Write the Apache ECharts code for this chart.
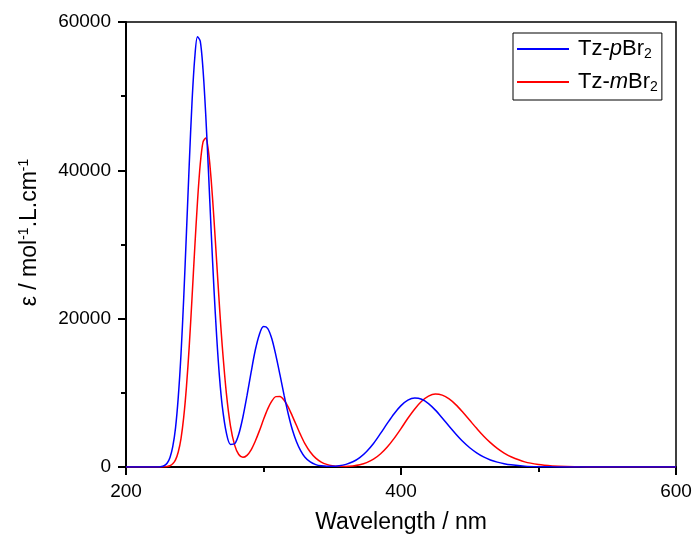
<!DOCTYPE html>
<html>
<head>
<meta charset="utf-8">
<script src="https://cdn.jsdelivr.net/npm/echarts@6/dist/echarts.min.js"></script>
<style>
html,body{margin:0;padding:0;background:#fff;}
#chart{width:693px;height:536px;}
</style>
</head>
<body>
<div id="chart"></div>
<script>
// Wavelength (nm)
var wavelengths = [200,210,218,222,225,228,230,232,234,236,238,240,242,244,246,248,250,252,254,256,258,260,262,264,266,268,270,273,276,279,282,285,288,291,294,297,300,303,306,309,312,315,318,321,324,327,330,334,338,342,346,350,355,360,365,370,375,380,385,390,395,400,405,410,415,420,425,430,435,440,445,450,455,460,465,470,475,480,490,500,510,520,530,540,550,570,600];
// Tz-pBr2 epsilon
var pBr2 = [0,0,0,6,40,207,537,1277,2735,5240,9390,15210,22890,31770,40850,49140,55140,58000,57420,53620,47460,39760,31550,23920,17420,12110,8220,4590,3050,3130,4415,6710,9620,12780,15740,17880,18940,18700,17320,15050,12410,9650,7150,5020,3410,2210,1362,682,324,154,88,90,166,356,702,1269,2102,3178,4495,5873,7190,8278,9020,9300,9128,8550,7669,6610,5499,4429,3436,2594,1911,1363,953,655,438,289,118,46,17,6,2,0,0,0,0];
// Tz-mBr2 epsilon
var mBr2 = [0,0,0,0,3,19,60,168,427,959,2027,3836,6748,10910,16300,22750,29530,35800,40850,43810,44360,42530,38600,33330,27490,21590,16310,9920,5510,2950,1680,1300,1570,2320,3480,4870,6400,7800,8880,9490,9520,9010,8080,6860,5590,4330,3200,2020,1190,660,350,180,90,80,145,300,585,1050,1750,2690,3860,5180,6570,7830,8860,9560,9840,9690,9180,8380,7370,6290,5210,4180,3280,2510,1880,1380,690,330,150,60,25,10,4,0,0];
var seriesNames = ['Tz-pBr2','Tz-mBr2'];
var xTicks = [200,400,600];
var yTicks = [0,20000,40000,60000];

var font = 'Arial, "Liberation Sans", sans-serif';
function pairs(ys){ return wavelengths.map(function(w,i){ return [w, ys[i]]; }); }

var chart = echarts.init(document.getElementById('chart'), null, {renderer:'canvas'});
chart.setOption({
  animation:false,
  backgroundColor:'#fff',
  grid:{left:126,right:17,top:22,bottom:69,containLabel:false,outerBoundsMode:'none',
        show:true,borderColor:'#000',borderWidth:1.5,backgroundColor:'transparent'},
  xAxis:{
    type:'value', min:xTicks[0], max:xTicks[xTicks.length-1], interval:200,
    name:'Wavelength / nm', nameLocation:'middle', nameGap:44,
    nameTextStyle:{fontFamily:font,fontSize:23,color:'#000'},
    axisLine:{show:true,onZero:false,lineStyle:{color:'#000',width:2}},
    axisTick:{show:true,inside:false,length:8,lineStyle:{color:'#000',width:2}},
    minorTick:{show:true,splitNumber:2,length:5,lineStyle:{color:'#000',width:2}},
    axisLabel:{fontFamily:font,fontSize:19,color:'#000',margin:15,formatter:function(v){return String(v);}},
    splitLine:{show:false}
  },
  yAxis:{
    type:'value', min:yTicks[0], max:yTicks[yTicks.length-1], interval:20000,
    name:'ε / mol{sup|-1}.L.cm{sup|-1}', nameLocation:'middle', nameGap:84, nameRotate:90,
    nameTextStyle:{fontFamily:font,fontSize:23,color:'#000',padding:[0,0,0,24],
      rich:{sup:{fontFamily:font,fontSize:14,color:'#000',padding:[0,0,11,0]}}},
    axisLine:{show:true,onZero:false,lineStyle:{color:'#000',width:2}},
    axisTick:{show:true,inside:false,length:8,lineStyle:{color:'#000',width:2}},
    minorTick:{show:true,splitNumber:2,length:5,lineStyle:{color:'#000',width:2}},
    axisLabel:{fontFamily:font,fontSize:19,color:'#000',margin:15,formatter:function(v){return String(v);}},
    splitLine:{show:false}
  },
  legend:{
    orient:'vertical', left:513, top:33,
    backgroundColor:'#fff', borderColor:'#000', borderWidth:1,
    padding:[5,4,6,3], itemWidth:52, itemHeight:20, itemGap:10,
    itemStyle:{opacity:0},
    data:seriesNames,
    formatter:function(n){ return n==='Tz-pBr2' ? 'Tz-{i|p}Br{sub|2}' : 'Tz-{i|m}Br{sub|2}'; },
    textStyle:{fontFamily:font,fontSize:22,color:'#000',padding:[0,0,0,4],
      rich:{i:{fontFamily:font,fontSize:22,fontStyle:'italic',color:'#000'},
            sub:{fontFamily:font,fontSize:14,color:'#000',padding:[10,0,0,0]}}}
  },
  series:[
    {name:seriesNames[0],type:'line',data:pairs(pBr2),symbol:'none',smooth:0.3,
     lineStyle:{color:'#0000ff',width:1.5},itemStyle:{color:'#0000ff'},z:3},
    {name:seriesNames[1],type:'line',data:pairs(mBr2),symbol:'none',smooth:0.3,
     lineStyle:{color:'#ff0000',width:1.5},itemStyle:{color:'#ff0000'},z:2}
  ]
});
</script>
</body>
</html>
